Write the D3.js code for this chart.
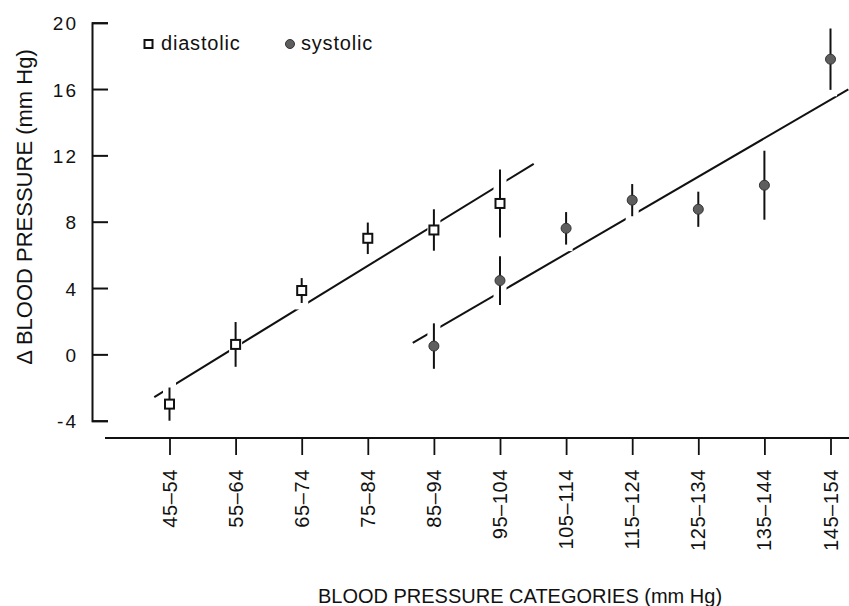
<!DOCTYPE html>
<html>
<head>
<meta charset="utf-8">
<script src="https://cdn.jsdelivr.net/npm/d3@7"></script>
<style>
  body { margin: 0; background: #fff; }
  svg { display: block; font-family: "Liberation Sans", Arial, sans-serif; }
</style>
</head>
<body>
<div id="chart"></div>
<script>
// Blood pressure categories (x axis)
const categories = ['45\u201354', '55\u201364', '65\u201374', '75\u201384', '85\u201394', '95\u2013104',
    '105\u2013114', '115\u2013124', '125\u2013134', '135\u2013144', '145\u2013154'];

// Diastolic: mean change and error (mm Hg)
const diastolicCats = categories.slice(0, 6);
const diastolicMean = [-3.0, 0.6, 3.85, 7.0, 7.5, 9.1];
const diastolicErr = [1.0, 1.35, 0.75, 0.95, 1.25, 2.05];

// Systolic: mean change and error (mm Hg)
const systolicCats = categories.slice(4);
const systolicMean = [0.5, 4.45, 7.6, 9.3, 8.75, 10.2, 17.8];
const systolicErr = [1.37, 1.47, 0.98, 0.97, 1.06, 2.08, 1.85];

// Regression lines: [intercept, slope per category, start index, end index]
const diastolicFit = [-2.01, 2.45, -0.23, 5.51];
const systolicFit = [-7.85, 2.32, 3.68, 10.27];

const yTicks = [-4, 0, 4, 8, 12, 16, 20];

const width = 849;
const height = 606;

const svg = d3.select('#chart')
    .append('svg')
    .attr('width', width)
    .attr('height', height);

// Scales
const x = d3.scalePoint()
    .domain(categories)
    .range([169.5, 830.5]);

// numeric position along the category axis (for fitted lines)
const xi = d3.scaleLinear()
    .domain([0, categories.length - 1])
    .range([169.5, 830.5]);

const y = d3.scaleLinear()
    .domain([-4, 20])
    .range([420.7, 22.7]);

// Y axis (ticks point inward)
const yAxis = svg.append('g')
    .attr('transform', 'translate(92,0)')
    .call(d3.axisLeft(y)
        .tickValues(yTicks)
        .tickFormat(d => String(d))
        .tickSize(-16)
        .tickSizeOuter(-16)
        .tickPadding(14));

yAxis.selectAll('path, line').attr('stroke', '#111').attr('stroke-width', 2);
yAxis.selectAll('text')
    .attr('font-size', 19)
    .attr('letter-spacing', '2px')
    .attr('fill', '#111')
    .attr('dy', '0.38em')
    .style('font-family', '"Liberation Sans", Arial, sans-serif');

// X axis
const xAxisY = 438;
svg.append('line')
    .attr('x1', 105).attr('x2', width)
    .attr('y1', xAxisY).attr('y2', xAxisY)
    .attr('stroke', '#111').attr('stroke-width', 2);

const xAxis = svg.append('g')
    .attr('transform', `translate(0,${xAxisY})`)
    .call(d3.axisBottom(x).tickSize(17).tickSizeOuter(0));

xAxis.select('.domain').remove();
xAxis.selectAll('line').attr('stroke', '#111').attr('stroke-width', 1.8);
xAxis.selectAll('text')
    .attr('font-size', 20)
    .attr('letter-spacing', '0.6px')
    .attr('fill', '#111')
    .attr('text-anchor', 'end')
    .attr('transform', 'rotate(-90)')
    .attr('x', -31)
    .attr('y', 6.5)
    .attr('dy', 0)
    .style('font-family', '"Liberation Sans", Arial, sans-serif');

// Axis titles
svg.append('text')
    .attr('transform', 'translate(32,207) rotate(-90)')
    .attr('text-anchor', 'middle')
    .attr('font-size', 22)
    .attr('fill', '#111')
    .text('\u0394 BLOOD PRESSURE (mm Hg)');

svg.append('text')
    .attr('x', 520)
    .attr('y', 603)
    .attr('text-anchor', 'middle')
    .attr('font-size', 20)
    .attr('fill', '#111')
    .text('BLOOD PRESSURE CATEGORIES (mm Hg)');

// Fitted lines
function drawFit(fit) {
    const [a, b, i0, i1] = fit;
    svg.append('line')
        .attr('x1', xi(i0)).attr('y1', y(a + b * i0))
        .attr('x2', xi(i1)).attr('y2', y(a + b * i1))
        .attr('stroke', '#111')
        .attr('stroke-width', 2);
}
drawFit(diastolicFit);
drawFit(systolicFit);

// Error bars and markers
function drawSeries(cats, means, errs, kind) {
    const data = cats.map((c, i) => ({ cat: c, mean: means[i], err: errs[i] }));
    const g = svg.append('g');

    // white halo breaks the fitted line where the bars cross it
    g.selectAll('.halo')
        .data(data)
        .join('line')
        .attr('class', 'halo')
        .attr('x1', d => x(d.cat)).attr('x2', d => x(d.cat))
        .attr('y1', d => y(d.mean + d.err)).attr('y2', d => y(d.mean - d.err))
        .attr('stroke', '#fff')
        .attr('stroke-width', 13)
        .attr('stroke-linecap', 'square');

    g.selectAll('.bar')
        .data(data)
        .join('line')
        .attr('class', 'bar')
        .attr('x1', d => x(d.cat)).attr('x2', d => x(d.cat))
        .attr('y1', d => y(d.mean + d.err)).attr('y2', d => y(d.mean - d.err))
        .attr('stroke', '#111')
        .attr('stroke-width', 2);

    if (kind === 'square') {
        g.selectAll('.mark')
            .data(data)
            .join('rect')
            .attr('class', 'mark')
            .attr('x', d => x(d.cat) - 4.5)
            .attr('y', d => y(d.mean) - 4.5)
            .attr('width', 9)
            .attr('height', 9)
            .attr('fill', '#fff')
            .attr('stroke', '#111')
            .attr('stroke-width', 2);
    } else {
        g.selectAll('.mark')
            .data(data)
            .join('circle')
            .attr('class', 'mark')
            .attr('cx', d => x(d.cat))
            .attr('cy', d => y(d.mean))
            .attr('r', 5)
            .attr('fill', '#5e5e5e')
            .attr('stroke', '#333')
            .attr('stroke-width', 1);
    }
}
drawSeries(diastolicCats, diastolicMean, diastolicErr, 'square');
drawSeries(systolicCats, systolicMean, systolicErr, 'circle');

// Legend
const legend = svg.append('g');
legend.append('rect')
    .attr('x', 144.5).attr('y', 40)
    .attr('width', 8).attr('height', 8)
    .attr('fill', '#fff').attr('stroke', '#111').attr('stroke-width', 2);
legend.append('text')
    .attr('x', 161).attr('y', 50)
    .attr('font-size', 20)
    .attr('letter-spacing', '0.8px')
    .attr('fill', '#111')
    .text('diastolic');
legend.append('circle')
    .attr('cx', 290).attr('cy', 44)
    .attr('r', 4.5)
    .attr('fill', '#5e5e5e').attr('stroke', '#333').attr('stroke-width', 1);
legend.append('text')
    .attr('x', 301).attr('y', 50)
    .attr('font-size', 20)
    .attr('letter-spacing', '0.8px')
    .attr('fill', '#111')
    .text('systolic');
</script>
</body>
</html>
